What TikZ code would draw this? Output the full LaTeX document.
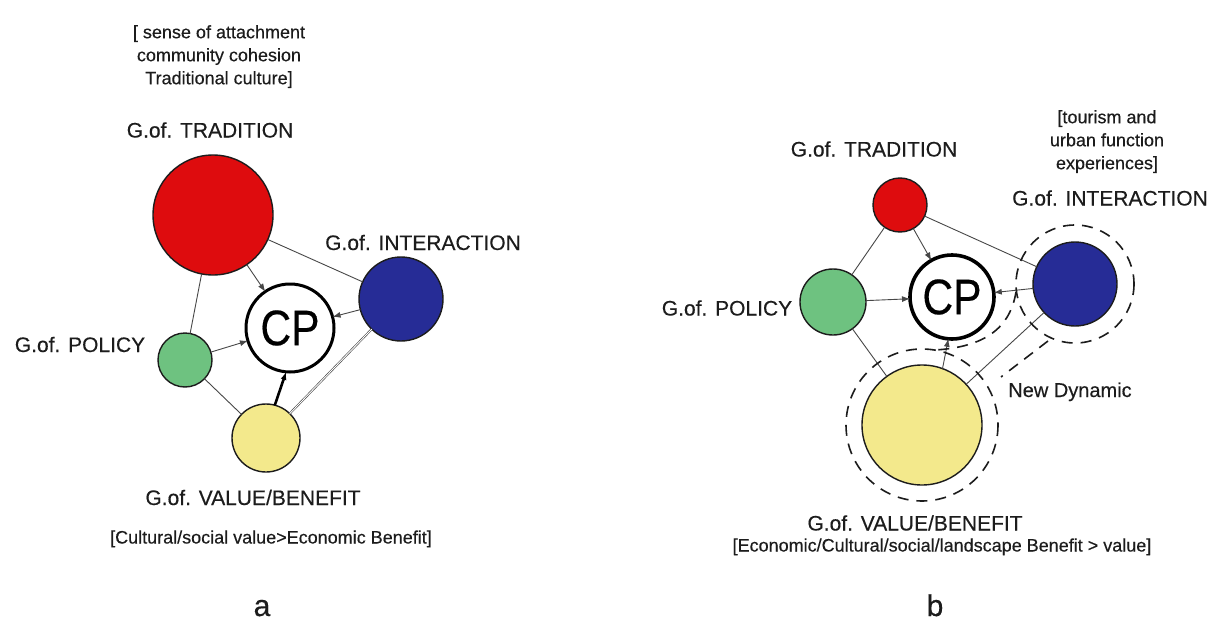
\documentclass[tikz,border=0pt]{standalone}
\usepackage{fontspec}
\setmainfont{Liberation Sans}[UprightFeatures={FakeBold=0.35}]
\usepackage{graphicx}
\usetikzlibrary{arrows.meta}
\definecolor{cred}{RGB}{222,12,14}
\definecolor{cblue}{RGB}{38,44,150}
\definecolor{cgreen}{RGB}{110,194,128}
\definecolor{cyellow}{RGB}{243,233,140}
\definecolor{ink}{RGB}{28,28,28}
\begin{document}
\begin{tikzpicture}[x=1pt,y=-1pt,
  gc/.style={circle, draw=ink, line width=1.4pt, inner sep=0pt, outer sep=0pt, minimum size=#1},
  cpc/.style={circle, draw=black, line width=3pt, fill=white, inner sep=0pt, outer sep=0pt, minimum size=#1, font=\fontsize{50}{50}\selectfont},
  lbl/.style={font=\fontsize{21}{25}\selectfont, text=ink, inner sep=0pt, anchor=base},
  sml/.style={font=\fontsize{18}{23}\selectfont, text=ink, inner sep=0pt, anchor=base},
  big/.style={font=\fontsize{30}{30}\selectfont, text=ink, inner sep=0pt, anchor=base},
  link/.style={draw=black!72, line width=0.9pt},
  arr/.style={link, -{Latex[length=8pt,width=6pt]}},
  dsh/.style={draw=ink, line width=1.6pt, dash pattern=on 11pt off 8pt}]
\useasboundingbox[fill=white] (0,0) rectangle (1216,642);

% ---------- panel a ----------
\node[gc=120pt, fill=cred] (redA) at (213,215) {};
\node[cpc=88pt] (cpA) at (290,328) {\scalebox{0.85}[1]{CP}};
\node[gc=84pt, fill=cblue] (blueA) at (401,299) {};
\node[gc=54pt, fill=cgreen] (greenA) at (185,360) {};
\node[gc=68pt, fill=cyellow] (yellowA) at (266,438) {};

\draw[link] (redA) -- (blueA);
\draw[link] (redA) -- (greenA);
\draw[link] (greenA) -- (yellowA);
\draw[link, line width=0.6pt, double=white, double distance=0.9pt] (yellowA) -- (blueA);
\draw[arr] (redA) -- (cpA);
\draw[arr] (greenA) -- (cpA);
\draw[arr] (blueA) -- (cpA);
\draw[arr, draw=black, line width=2.6pt] (yellowA.75) -- (cpA.265);

\node[sml, anchor=north, align=center] (topA) at (219,25) {[ sense of attachment\\community cohesion\\Traditional culture]};
\node[lbl] (tradA) at (210,137.5) {G.of. TRADITION};
\node[lbl] (interA) at (423,250) {G.of. INTERACTION};
\node[lbl] (polA) at (80,352) {G.of. POLICY};
\node[lbl] (valA) at (253,505) {G.of. VALUE/BENEFIT};
\node[sml] (brA) at (271,543.5) {[Cultural/social value>Economic Benefit]};
\node[big] (la) at (262,616) {a};

% ---------- panel b ----------
\node[gc=54pt, fill=cred] (redB) at (900,205) {};
\node[cpc=84pt, line width=3.6pt] (cpB) at (952,297) {\scalebox{0.85}[1]{CP}};
\node[gc=84pt, fill=cblue] (blueB) at (1075,284) {};
\node[gc=66pt, fill=cgreen] (greenB) at (833,302) {};
\node[gc=120pt, fill=cyellow] (yellowB) at (922,425) {};

\draw[link] (redB) -- (greenB);
\draw[link] (redB) -- (blueB);
\draw[link] (greenB) -- (yellowB);
\draw[link] (yellowB) -- (blueB);
\draw[arr] (redB) -- (cpB);
\draw[arr] (greenB) -- (cpB);
\draw[arr] (blueB) -- (cpB);
\draw[arr] (yellowB.70) -- (cpB.265);

% dashed "new dynamic" outline
\draw[dsh] (yellowB.center) circle[radius=76];
\draw[dsh] (blueB.center) circle[radius=59];
\coordinate (d1) at (1016,292);
\coordinate (d2) at (935,350);
\coordinate (d3) at (1048,341);
\coordinate (d4) at (1001,377);
\draw[dsh] (d1) .. controls (1010,328) and (985,347) .. (d2);
\draw[dsh] (d3) -- (d4);

\node[lbl] (tradB) at (874,156.5) {G.of. TRADITION};
\node[sml, anchor=north, align=center] (topB) at (1107,110) {[tourism and\\urban function\\experiences]};
\node[lbl] (interB) at (1110,205.5) {G.of. INTERACTION};
\node[lbl] (polB) at (727,315.5) {G.of. POLICY};
\node[lbl, font=\fontsize{20}{24}\selectfont] (ndB) at (1070,397) {New Dynamic};
\node[lbl] (valB) at (915,530.5) {G.of. VALUE/BENEFIT};
\node[sml] (brB) at (942,551.5) {[Economic/Cultural/social/landscape Benefit > value]};
\node[big] (lb) at (935,616) {b};
\end{tikzpicture}
\end{document}
